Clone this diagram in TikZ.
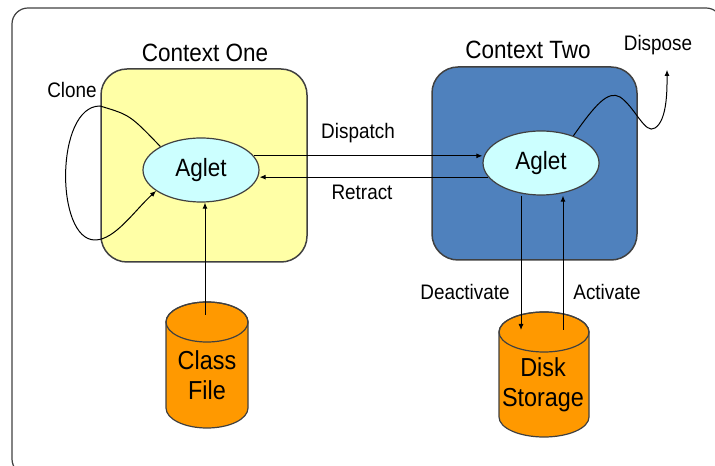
\documentclass[tikz,border=0pt]{standalone}
\usepackage{fontspec}
\setmainfont[FakeStretch=0.9]{Liberation Sans}
\usepackage{tikz}
\usetikzlibrary{shapes.geometric,arrows.meta}

\definecolor{ctxyellow}{HTML}{FFFFA6}
\definecolor{ctxblue}{HTML}{4F81BD}
\definecolor{agletcyan}{HTML}{CCFFFF}
\definecolor{diskorange}{HTML}{FF9900}
\definecolor{edgegray}{HTML}{404040}

\tikzset{
  ctxbox/.style={draw=edgegray, line width=0.75pt, rounded corners=13pt},
  aglet/.style={ellipse, draw=edgegray, line width=0.6pt, fill=agletcyan,
    minimum width=58pt, minimum height=32pt, inner sep=0pt, font=\fontsize{12.5}{14}\selectfont},
  cyl/.style={draw=edgegray, line width=0.6pt, fill=diskorange},
  lbl/.style={font=\fontsize{10.5}{12}\selectfont},
  ctxlbl/.style={font=\fontsize{12.5}{14}\selectfont},
  cyltxt/.style={align=center, font=\fontsize{13}{15}\selectfont},
  arr/.style={-{Latex[length=3pt,width=2.5pt]}, line width=0.5pt}
}

\begin{document}
\begin{tikzpicture}[x=0.5pt,y=0.5pt]
        \useasboundingbox (0,0) rectangle (715,465);
        \clip (0,0) rectangle (715,465);
        % outer frame
        \draw[edgegray, line width=0.6pt, rounded corners=8pt] (12,-10) rectangle (722,457);
        % contexts
        \draw[ctxbox, fill=ctxyellow] (101,203) rectangle (307,396);
        \draw[ctxbox, fill=ctxblue] (432,205) rectangle (637,398);
        \node[ctxlbl] (ctx1) at (205,412) {Context One};
        \node[ctxlbl] (ctx2) at (528,415) {Context Two};
        % aglets
        \node[aglet] (a1) at (201,295) {Aglet};
        \node[aglet] (a2) at (541,302) {Aglet};
        % class file
        \draw[cyl] (166,143) -- (166,57) arc[start angle=180, end angle=360, x radius=41, y radius=20]
            -- (248,143) arc[start angle=0, end angle=180, x radius=41, y radius=20] -- cycle;
        \draw[edgegray, line width=0.6pt] (207,143) ellipse[x radius=41, y radius=20];
        \node[cyltxt] (cls) at (207,90) {Class\\File};
        \coordinate (clstop) at (205,150);
        % disk storage
        \draw[cyl] (499,133) -- (499,48) arc[start angle=180, end angle=360, x radius=45, y radius=20]
            -- (589,133) arc[start angle=0, end angle=180, x radius=45, y radius=20] -- cycle;
        \draw[edgegray, line width=0.6pt] (544,133) ellipse[x radius=45, y radius=20];
        \node[cyltxt] (dsk) at (543,80) {Disk\\Storage};
        \coordinate (deact) at (521,135);
        \coordinate (act) at (563,135);
        % connectors
        \draw[arr] (a1.15) -- (a1.15 -| a2.west);
        \draw[arr] (a2.195) -- (a2.195 -| a1.east);
        \node[lbl] (dsp-lbl) at (358,332) {Dispatch};
        \node[lbl] (rtr-lbl) at (362,273) {Retract};
        \draw[arr] (clstop) -- (clstop |- a1.south);
        \draw[arr] (deact |- a2.south) -- (deact);
        \draw[arr] (act) -- (act |- a2.south);
        \node[lbl] (deact-lbl) at (465,173) {Deactivate};
        \node[lbl] (act-lbl) at (607,173) {Activate};
        % clone loop
        \draw[arr] (a1.150) .. controls (130,350) .. (100,359)
            .. controls (55,359) and (55,225) .. (95,225)
            .. controls (115,225) and (135,255) .. (a1.205);
        \node[lbl] (cln-lbl) at (72,375) {Clone};
        % dispose
        \node[lbl] (dsp) at (658,420) {Dispose};
        \draw[arr] (a2.40) .. controls (595,360) and (608,375) .. (620,368)
            .. controls (635,358) and (645,330) .. (655,337)
            .. controls (668,345) and (667,380) .. ([xshift=4.5pt,yshift=-4pt]dsp.south);
\end{tikzpicture}
\end{document}
